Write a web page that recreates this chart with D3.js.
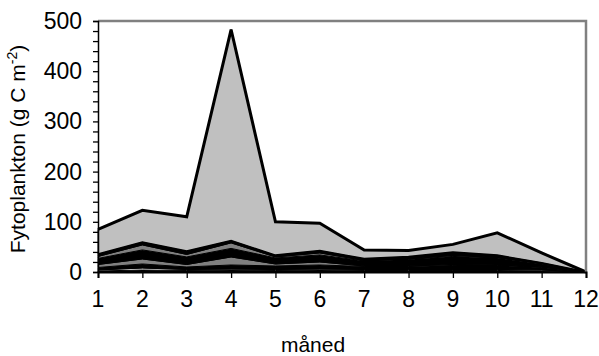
<!DOCTYPE html>
<html>
<head>
<meta charset="utf-8">
<script src="https://cdn.jsdelivr.net/npm/d3@7"></script>
<style>
  body { margin: 0; background: #fff; }
  text { font-family: "Liberation Sans", Arial, sans-serif; }
</style>
</head>
<body>
<div id="chart"></div>
<script>
// months on the x axis
var months = [1, 2, 3, 4, 5, 6, 7, 8, 9, 10, 11, 12];
var yTicks = [0, 100, 200, 300, 400, 500];

// layers, bottom to top (g C m-2)
var layer1 = [2, 4, 3, 4, 3, 4, 3, 3, 3, 3, 2, 0];
var layer2 = [2, 4, 2, 2, 2, 2, 2, 2, 2, 2, 2, 0];
var layer3 = [5, 8, 5, 8, 7, 8, 6, 6, 8, 8, 5, 0];
var layer4 = [6, 10, 5, 16, 4, 6, 1, 1, 2, 1, 1, 0];
var layer5 = [12, 18, 15, 17, 12, 14, 10, 13, 16, 14, 6, 0];
var layer6 = [4, 10, 5, 11, 2, 4, 1, 1, 2, 1, 1, 0];
var layer7 = [4, 5, 6, 4, 3, 4, 3, 4, 6, 4, 1, 0];
var layer8 = [50, 64, 69, 421, 67, 55, 18, 13, 16, 45, 20, 0];

var layers = [layer1, layer2, layer3, layer4, layer5, layer6, layer7, layer8];
var fills = ["#000000", "#ffffff", "#000000", "#808080", "#000000", "#808080", "#000000", "#c0c0c0"];

var width = 599, height = 356;
var mLeft = 98, mRight = 586, mTop = 21, mBottom = 272;

var svg = d3.select("#chart")
    .append("svg")
    .attr("width", width)
    .attr("height", height);

var x = d3.scaleLinear()
    .domain([1, 12])
    .range([mLeft, mRight]);

var y = d3.scaleLinear()
    .domain([0, 500])
    .range([mBottom, mTop]);

var keys = layers.map(function(d, i) { return "s" + i; });
var rows = months.map(function(m, j) {
    var row = { month: m };
    layers.forEach(function(l, i) { row["s" + i] = l[j]; });
    return row;
});

var series = d3.stack().keys(keys)(rows);

var area = d3.area()
    .x(function(d) { return x(d.data.month); })
    .y0(function(d) { return y(d[0]); })
    .y1(function(d) { return y(d[1]); });

var topLine = d3.line()
    .x(function(d) { return x(d.data.month); })
    .y(function(d) { return y(d[1]); });

svg.selectAll(".layer")
    .data(series)
    .enter()
    .append("path")
    .attr("class", "layer")
    .attr("d", area)
    .attr("fill", function(d, i) { return fills[i]; })
    .attr("stroke", "#000")
    .attr("stroke-width", 1)
    .attr("stroke-linejoin", "round");

// heavy outlines on the top of the dark stack and the total
svg.append("path")
    .attr("d", topLine(series[6]))
    .attr("fill", "none")
    .attr("stroke", "#000")
    .attr("stroke-width", 2.2);

svg.append("path")
    .attr("d", topLine(series[7]))
    .attr("fill", "none")
    .attr("stroke", "#000")
    .attr("stroke-width", 3);

// grey frame top and right
svg.append("path")
    .attr("d", "M" + mLeft + "," + mTop + "H" + mRight + "V" + mBottom)
    .attr("fill", "none")
    .attr("stroke", "#808080")
    .attr("stroke-width", 2.5);

// y axis
var yAxis = svg.append("g")
    .attr("transform", "translate(" + mLeft + ",0)")
    .call(d3.axisLeft(y).tickValues(d3.range(0, 501, 20)).tickSize(5).tickFormat(""));
yAxis.select(".domain").attr("stroke", "#000").attr("stroke-width", 1.5);
yAxis.selectAll(".tick line").attr("stroke", "#000").attr("stroke-width", 1.3);

svg.selectAll(".ylab")
    .data(yTicks)
    .enter()
    .append("text")
    .attr("class", "ylab")
    .attr("x", mLeft - 16)
    .attr("y", function(d) { return y(d) + 8; })
    .attr("text-anchor", "end")
    .attr("font-size", 23)
    .text(function(d) { return d; });

// x axis
var xAxis = svg.append("g")
    .attr("transform", "translate(0," + mBottom + ")")
    .call(d3.axisBottom(x).tickValues(months).tickSize(6).tickFormat(""));
xAxis.select(".domain").attr("stroke", "#000").attr("stroke-width", 2);
xAxis.selectAll(".tick line").attr("stroke", "#000").attr("stroke-width", 1.3);

svg.selectAll(".xlab")
    .data(months)
    .enter()
    .append("text")
    .attr("class", "xlab")
    .attr("x", function(d) { return x(d); })
    .attr("y", 307)
    .attr("text-anchor", "middle")
    .attr("font-size", 23)
    .text(function(d) { return d; });

svg.append("text")
    .attr("x", 313)
    .attr("y", 352)
    .attr("text-anchor", "middle")
    .attr("font-size", 21)
    .text("måned");

var yTitle = svg.append("text")
    .attr("transform", "translate(25,149) rotate(-90)")
    .attr("text-anchor", "middle")
    .attr("font-size", 21);
yTitle.append("tspan").text("Fytoplankton (g C m");
yTitle.append("tspan").attr("font-size", 14).attr("dy", -8).text("-2");
yTitle.append("tspan").attr("dy", 8).text(")");
</script>
</body>
</html>
